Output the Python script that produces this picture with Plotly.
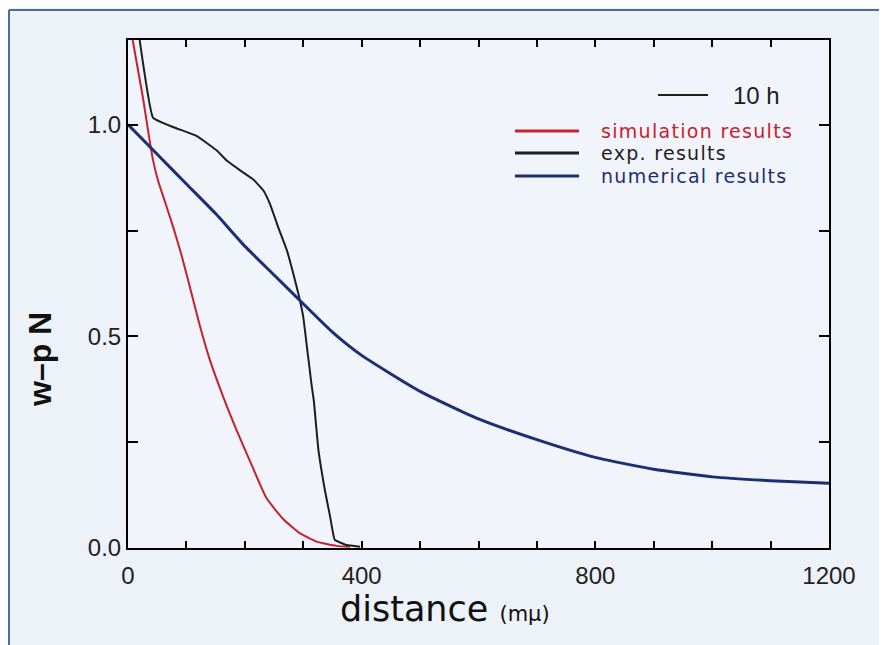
import plotly.graph_objects as go

# ---- data ----
sim_x = [8, 26, 35, 43, 52, 64, 78, 92, 109, 123, 140, 163, 186, 212, 237, 266, 294, 323, 357, 380]
sim_y = [1.20, 1.06, 0.98, 0.915, 0.865, 0.815, 0.755, 0.69, 0.60, 0.525, 0.445, 0.357, 0.278,
         0.195, 0.118, 0.068, 0.035, 0.015, 0.005, 0.003]

exp_x = [20, 43, 78, 118, 152, 170, 192, 215, 232, 243, 257, 272, 283, 293, 300, 307, 314, 318,
         326, 337, 346, 354, 374, 397]
exp_y = [1.20, 1.016, 0.994, 0.973, 0.939, 0.914, 0.892, 0.870, 0.844, 0.813, 0.758, 0.703, 0.648,
         0.593, 0.546, 0.467, 0.388, 0.349, 0.231, 0.137, 0.074, 0.019, 0.007, 0.003]

num_x = [0, 50, 100, 150, 200, 250, 300, 350, 400, 500, 600, 700, 800, 900, 1000, 1100, 1200]
num_y = [1.0, 0.93, 0.86, 0.79, 0.713, 0.645, 0.577, 0.51, 0.455, 0.37, 0.305, 0.256, 0.214,
         0.186, 0.168, 0.159, 0.153]

x_tickvals = [0, 100, 200, 300, 400, 500, 600, 700, 800, 900, 1000, 1100, 1200]
x_ticktext = ["0", "", "", "", "400", "", "", "", "800", "", "", "", "1200"]
y_tickvals = [0, 0.25, 0.5, 0.75, 1.0]
y_ticktext = ["0.0", "", "0.5", "", "1.0"]

legend_names = ["simulation results", "exp. results", "numerical results"]
colors = ["#c8202c", "#1e1e1e", "#1c2f72"]

OFF = 8  # page body margin
W, H = 879, 637
L, T = 120, 32
PW, PH = 701, 508
R, B = W - L - PW, H - T - PH


def px(xp):  # page pixel -> paper x
    return (xp - OFF - L) / PW


def py(yp):  # page pixel -> paper y
    return (OFF + T + PH - yp) / PH


fig = go.Figure()
fig.add_trace(go.Scatter(x=sim_x, y=sim_y, mode="lines", name=legend_names[0],
                         line=dict(color=colors[0], width=2, shape="spline", smoothing=0.5)))
fig.add_trace(go.Scatter(x=exp_x, y=exp_y, mode="lines", name=legend_names[1],
                         line=dict(color=colors[1], width=2, shape="spline", smoothing=0.3)))
fig.add_trace(go.Scatter(x=num_x, y=num_y, mode="lines", name=legend_names[2],
                         line=dict(color=colors[2], width=3, shape="spline", smoothing=0.5)))

tickfont = dict(family="Liberation Sans, Arial, sans-serif", size=24, color="#222")
axis_common = dict(showline=True, linecolor="black", linewidth=2, mirror="ticks",
                   ticks="inside", tickcolor="black", tickwidth=2,
                   showgrid=False, zeroline=False, tickfont=tickfont)

fig.update_layout(
    width=W, height=H, autosize=False,
    margin=dict(l=L, r=R, t=T, b=B, pad=0),
    paper_bgcolor="#edf1f8", plot_bgcolor="#f1f4fa",
    showlegend=False,
    xaxis=dict(range=[0, 1200], tickvals=x_tickvals, ticktext=x_ticktext, ticklen=7,
               ticklabelstandoff=5, **axis_common),
    yaxis=dict(range=[0, 1.2], tickvals=y_tickvals, ticktext=y_ticktext, ticklen=10,
               **axis_common),
)

shapes = []
annotations = []
# outer frame (top + left edges visible)
shapes.append(dict(type="line", xref="paper", yref="paper", x0=px(9), x1=px(900), y0=py(10), y1=py(10),
                   line=dict(color="#4a6d9a", width=2)))
shapes.append(dict(type="line", xref="paper", yref="paper", x0=px(9), x1=px(9), y0=py(10), y1=py(700),
                   line=dict(color="#4a6d9a", width=2)))

# legend header "10 h"
shapes.append(dict(type="line", xref="paper", yref="paper", x0=px(658), x1=px(708), y0=py(95), y1=py(95),
                   line=dict(color="#1e1e1e", width=2)))
annotations.append(dict(xref="paper", yref="paper", x=px(731), y=py(95), xanchor="left", yanchor="middle",
                        text="10 h", showarrow=False,
                        font=dict(family="Liberation Sans, Arial, sans-serif", size=24, color="#1e1e1e")))
# legend entries
for name, col, yp in zip(legend_names, colors, [131, 153, 176]):
    shapes.append(dict(type="line", xref="paper", yref="paper", x0=px(515), x1=px(579), y0=py(yp), y1=py(yp),
                       line=dict(color=col, width=3)))
    annotations.append(dict(xref="paper", yref="paper", x=px(599), y=py(yp), xanchor="left", yanchor="middle",
                            text="<span style='letter-spacing:1.3px'>" + name + "</span>", showarrow=False,
                            font=dict(family="DejaVu Sans, Verdana, sans-serif", size=19, color=col)))

# axis titles
annotations.append(dict(xref="paper", yref="paper", x=px(338), y=py(609), xanchor="left", yanchor="middle",
                        text="distance <span style='font-size:21px'>(mμ)</span>", showarrow=False,
                        font=dict(family="DejaVu Sans, Verdana, sans-serif", size=35, color="#111")))
annotations.append(dict(xref="paper", yref="paper", x=px(40), y=py(360), xanchor="center", yanchor="middle",
                        text="<b>w–p N</b>", textangle=-90, showarrow=False,
                        font=dict(family="Liberation Sans, Arial, sans-serif", size=32, color="#111")))

fig.update_layout(shapes=shapes, annotations=annotations)
fig.write_html("out.html")
